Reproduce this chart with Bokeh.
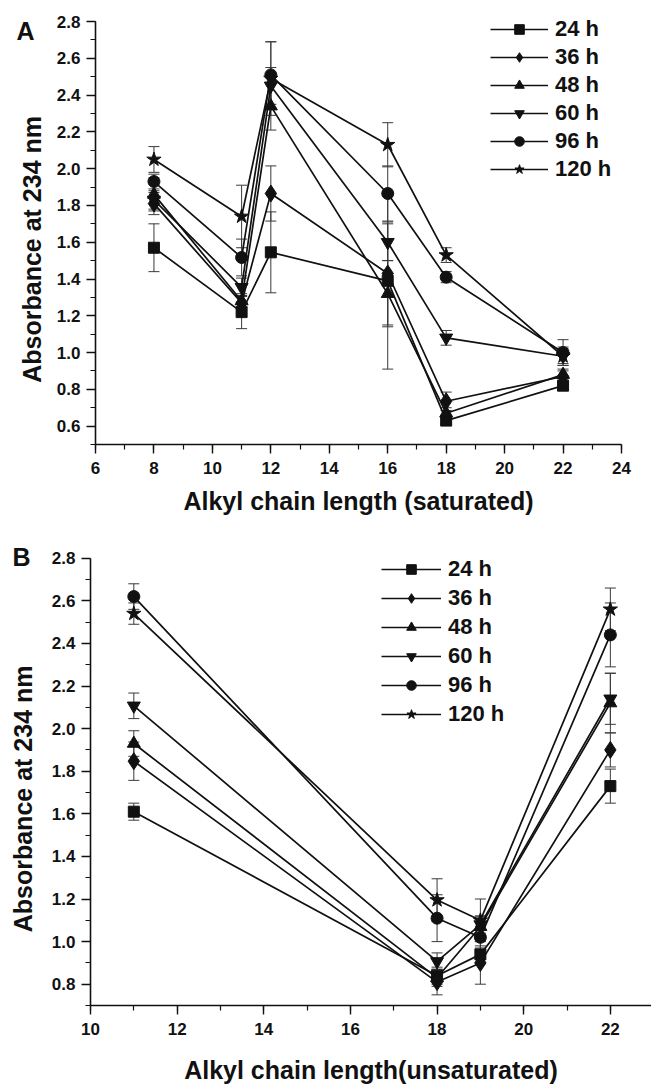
import math
from bokeh.plotting import figure
from bokeh.models import (ColumnDataSource, Whisker, TeeHead, SingleIntervalTicker,
                          PrintfTickFormatter, Range1d, Legend, LegendItem)
from bokeh.layouts import column, row
from bokeh.core.properties import value
from bokeh.embed import file_html
from bokeh.resources import INLINE

# ---------------- data ----------------
series_labels = ["24 h", "36 h", "48 h", "60 h", "96 h", "120 h"]
markers = ["square", "diamond", "triangle", "inverted_triangle", "circle", "star"]
y_title = "Absorbance at 234 nm"

# Panel A (saturated)
xA = [8, 11, 12, 16, 18, 22]
A_24 = [1.57, 1.22, 1.545, 1.39, 0.63, 0.82]
A_36 = [1.81, 1.27, 1.865, 1.43, 0.735, 0.87]
A_48 = [1.86, 1.28, 2.34, 1.32, 0.67, 0.88]
A_60 = [1.83, 1.355, 2.45, 1.60, 1.08, 0.98]
A_96 = [1.93, 1.517, 2.51, 1.865, 1.41, 1.00]
A_120 = [2.05, 1.74, 2.49, 2.13, 1.53, 0.98]
A_err_24 = [0.13, 0.09, 0.22, 0.48, 0.02, 0.02]
A_err_36 = [0.06, 0.04, 0.15, 0.28, 0.05, 0.03]
A_err_48 = [0.09, 0.04, 0.13, 0.18, 0.03, 0.03]
A_err_60 = [0.05, 0.05, 0.10, 0.10, 0.04, 0.05]
A_err_96 = [0.04, 0.10, 0.18, 0.15, 0.03, 0.07]
A_err_120 = [0.07, 0.17, 0.20, 0.12, 0.04, 0.04]

# Panel B (unsaturated)
xB = [11, 18, 19, 22]
B_24 = [1.61, 0.84, 0.94, 1.73]
B_36 = [1.847, 0.81, 0.90, 1.90]
B_48 = [1.93, 0.83, 1.07, 2.12]
B_60 = [2.107, 0.907, 1.08, 2.14]
B_96 = [2.62, 1.11, 1.02, 2.44]
B_120 = [2.54, 1.195, 1.10, 2.56]
B_err_24 = [0.04, 0.04, 0.04, 0.08]
B_err_36 = [0.09, 0.06, 0.10, 0.08]
B_err_48 = [0.06, 0.04, 0.05, 0.14]
B_err_60 = [0.06, 0.04, 0.04, 0.12]
B_err_96 = [0.06, 0.11, 0.05, 0.15]
B_err_120 = [0.05, 0.10, 0.10, 0.10]

A_vals = [A_24, A_36, A_48, A_60, A_96, A_120]
A_errs = [A_err_24, A_err_36, A_err_48, A_err_60, A_err_96, A_err_120]
B_vals = [B_24, B_36, B_48, B_60, B_96, B_120]
B_errs = [B_err_24, B_err_36, B_err_48, B_err_60, B_err_96, B_err_120]

FONT = "Liberation Sans"
INK = "#111111"
marker_sizes = {"square": 11, "diamond": 17, "triangle": 13,
                "inverted_triangle": 13, "circle": 12, "star": 15}
SIDE_W = 45


def make_side(height, y_range, letter, letter_xy, title_xy):
    """Narrow strip holding the panel letter and the rotated y-axis title
    (shares the panel's y range, so positions are in the panel's y units)."""
    s = figure(width=SIDE_W, height=height, output_backend="svg", toolbar_location=None,
               x_range=Range1d(0, SIDE_W), y_range=y_range,
               x_axis_type=None, y_axis_type=None,
               min_border_left=0, min_border_right=0, min_border_top=0, min_border_bottom=0)
    s.outline_line_color = None
    s.xgrid.visible = False
    s.ygrid.visible = False
    s.text(x=[letter_xy[0]], y=[letter_xy[1]], text=[letter],
           text_font=value(FONT), text_font_style="bold", text_font_size="25px",
           text_color=INK, text_align="center", text_baseline="middle")
    s.text(x=[title_xy[0]], y=[title_xy[1]], text=[y_title], angle=math.pi / 2,
           text_font=value(FONT), text_font_style="bold", text_font_size="25px",
           text_color=INK, text_align="center", text_baseline="middle")
    return s


def make_panel(xs, vals, errs, x_range, y_range, y_bounds, width, height, borders,
               xlabel, xlabel_standoff, legend_loc, glyph_w, leg_spacing):
    bl, br, bt, bb = borders
    p = figure(width=width, height=height, output_backend="svg", toolbar_location=None,
               x_range=Range1d(*x_range), y_range=Range1d(*y_range),
               min_border_left=bl, min_border_right=br, min_border_top=bt,
               min_border_bottom=bb)
    p.outline_line_color = None
    p.xgrid.visible = False
    p.ygrid.visible = False
    p.background_fill_color = "white"

    items = []
    for lab, mk, v, e in zip(series_labels, markers, vals, errs):
        src = ColumnDataSource(dict(x=xs, y=v,
                                    lo=[a - b for a, b in zip(v, e)],
                                    hi=[a + b for a, b in zip(v, e)]))
        w = Whisker(source=src, base="x", lower="lo", upper="hi",
                    line_color="#3a3a3a", line_width=1,
                    upper_head=TeeHead(size=11, line_color="#3a3a3a", line_width=1),
                    lower_head=TeeHead(size=11, line_color="#3a3a3a", line_width=1))
        p.add_layout(w)
        r1 = p.line("x", "y", source=src, line_color=INK, line_width=1.7)
        r2 = p.scatter("x", "y", source=src, marker=mk, size=marker_sizes[mk],
                       fill_color=INK, line_color=INK)
        items.append(LegendItem(label=lab, renderers=[r1, r2]))

    leg = Legend(items=items, location=legend_loc, orientation="vertical")
    leg.border_line_color = None
    leg.background_fill_alpha = 0
    leg.padding = 0
    leg.margin = 0
    leg.glyph_width = glyph_w
    leg.glyph_height = 24
    leg.label_height = 24
    leg.spacing = leg_spacing
    leg.label_standoff = 7
    leg.label_text_font = FONT
    leg.label_text_font_style = "bold"
    leg.label_text_font_size = "22px"
    leg.label_text_color = INK
    p.add_layout(leg)

    for ax in (p.xaxis[0], p.yaxis[0]):
        ax.axis_line_width = 1.6
        ax.axis_line_color = INK
        ax.major_tick_line_color = INK
        ax.major_tick_line_width = 1.4
        ax.minor_tick_line_color = INK
        ax.minor_tick_line_width = 1.2
        ax.major_tick_out = 9
        ax.major_tick_in = 0
        ax.minor_tick_out = 5
        ax.minor_tick_in = 0
        ax.major_label_text_font = FONT
        ax.major_label_text_font_style = "bold"
        ax.major_label_text_font_size = "17px"
        ax.major_label_text_color = INK
        ax.axis_label_text_font = FONT
        ax.axis_label_text_font_style = "bold"
        ax.axis_label_text_font_size = "25px"
        ax.axis_label_text_color = INK

    p.xaxis[0].major_label_standoff = 8
    p.yaxis[0].major_label_standoff = 6
    p.xaxis[0].axis_label_standoff = xlabel_standoff
    p.xaxis[0].ticker = SingleIntervalTicker(interval=2, num_minor_ticks=2)
    p.yaxis[0].ticker = SingleIntervalTicker(interval=0.2, num_minor_ticks=2)
    p.yaxis[0].formatter = PrintfTickFormatter(format="%.1f")
    p.yaxis[0].bounds = y_bounds
    p.xaxis[0].axis_label = xlabel
    return p


HA, HB = 530, 556
pA = make_panel(xA, A_vals, A_errs, (6, 24), (0.5, 2.871), (0.5, 2.8001), 651 - SIDE_W, HA,
                (95 - SIDE_W, 30, 8, 86), "Alkyl chain length (saturated)", 10,
                (395, 262), 58, 2)
sideA = make_side(HA, pA.y_range, "A", (25, 2.751), (31, 1.561))
pB = make_panel(xB, B_vals, B_errs, (10, 22.95), (0.7, 2.902), (0.7, 2.8001), 651 - SIDE_W, HB,
                (90 - SIDE_W, 0, 6, 76), "Alkyl chain length(unsaturated)", 18,
                (291, 278), 60, 3)
sideB = make_side(HB, pB.y_range, "B", (21, 2.805), (22, 1.670))

layout = column(row(sideA, pA), row(sideB, pB))
open("out.html", "w").write(file_html(layout, INLINE))
